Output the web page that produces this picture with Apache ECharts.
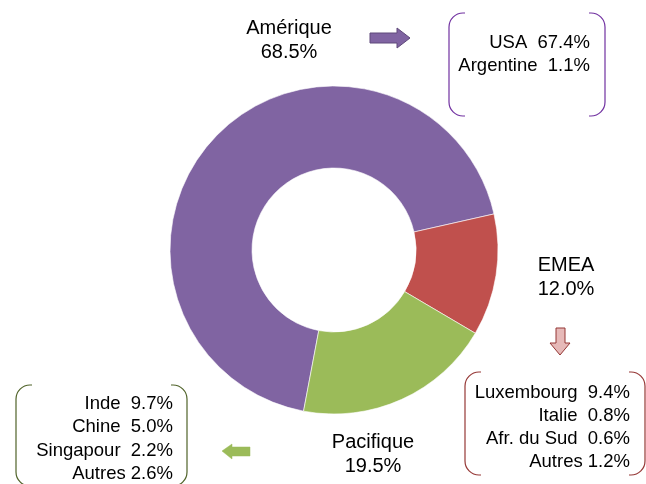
<!DOCTYPE html>
<html><head><meta charset="utf-8">
<script src="https://cdn.jsdelivr.net/npm/echarts@6/dist/echarts.min.js"></script>
<style>html,body{margin:0;padding:0;background:#fff}#c{width:646px;height:484px}</style>
</head><body><div id="c"></div>
<script>
const regions = ['Amérique', 'EMEA', 'Pacifique'];
const regionValues = [68.5, 12.0, 19.5];
const regionColors = ['#8064A2', '#C0504D', '#9BBB59'];
const ameriqueCountries = ['USA', 'Argentine'];
const ameriqueValues = [67.4, 1.1];
const emeaCountries = ['Luxembourg', 'Italie', 'Afr. du Sud', 'Autres'];
const emeaValues = [9.4, 0.8, 0.6, 1.2];
const pacifiqueCountries = ['Inde', 'Chine', 'Singapour', 'Autres'];
const pacifiqueValues = [9.7, 5.0, 2.2, 2.6];

const FONT = '"Liberation Sans", Arial, sans-serif';
const fmt = v => v.toFixed(1) + '%';
const graphics = [];

function regionLabel(i, x, y) {
  graphics.push({type:'text', x:x, y:y, style:{text:regions[i], font:'20px ' + FONT, fill:'#000', align:'center', verticalAlign:'middle'}});
  graphics.push({type:'text', x:x, y:y+24, style:{text:fmt(regionValues[i]), font:'20px ' + FONT, fill:'#000', align:'center', verticalAlign:'middle'}});
}
function listText(names, vals, xRight, y0, step) {
  names.forEach((n, k) => {
    const sep = n === 'Autres' ? ' ' : '  ';
    graphics.push({type:'text', x:xRight, y:y0 + k*step, style:{text:n + sep + fmt(vals[k]), font:'18.5px ' + FONT, fill:'#000', align:'right', verticalAlign:'middle'}});
  });
}
function brackets(x1, x2, y1, y2, color) {
  const r = 14, t = 2, PI = Math.PI;
  const st = {fill:null, stroke:color, lineWidth:1.2};
  const L = (a, b, c, d) => graphics.push({type:'line', shape:{x1:a, y1:b, x2:c, y2:d}, style:st});
  const A = (cx, cy, s, e) => graphics.push({type:'arc', shape:{cx:cx, cy:cy, r:r, startAngle:s, endAngle:e, clockwise:true}, style:st});
  // left
  L(x1+r, y1, x1+r+t, y1); A(x1+r, y1+r, PI, 1.5*PI); L(x1, y1+r, x1, y2-r); A(x1+r, y2-r, 0.5*PI, PI); L(x1+r, y2, x1+r+t, y2);
  // right
  L(x2-r-t, y1, x2-r, y1); A(x2-r, y1+r, 1.5*PI, 2*PI); L(x2, y1+r, x2, y2-r); A(x2-r, y2-r, 0, 0.5*PI); L(x2-r-t, y2, x2-r, y2);
}

regionLabel(0, 289, 28);
regionLabel(1, 566, 265);
regionLabel(2, 373, 442);

listText(ameriqueCountries, ameriqueValues, 590, 43, 23);
listText(emeaCountries, emeaValues, 630, 393, 23);
listText(pacifiqueCountries, pacifiqueValues, 173, 404, 23.3);

brackets(449, 605, 13, 116, '#7030A0');
brackets(465, 645, 372, 475, '#953735');
brackets(16, 187, 385, 486, '#4F6228');

graphics.push({type:'polygon', shape:{points:[[370,33],[397,33],[397,28],[410,38],[397,48],[397,43],[370,43]]}, style:{fill:'#8064A2', stroke:'#5F497A', lineWidth:1}});
graphics.push({type:'polygon', shape:{points:[[556,328],[565,328],[565,343],[570,343],[560,355],[550,343],[556,343]]}, style:{fill:'#E6B9B8', stroke:'#943634', lineWidth:1}});
graphics.push({type:'polygon', shape:{points:[[222,451],[232,444],[232,447],[250,447],[250,456],[232,456],[232,459]]}, style:{fill:'#9BBB59', stroke:'#9BBB59', lineWidth:0.5}});

const chart = echarts.init(document.getElementById('c'), null, {renderer:'canvas'});
chart.setOption({
  animation: false,
  backgroundColor: '#fff',
  series: [{
    type: 'pie',
    center: [334, 250],
    radius: [82, 164],
    startAngle: 259.3,
    clockwise: true,
    label: {show: false},
    labelLine: {show: false},
    emphasis: {disabled: true},
    itemStyle: {borderColor: '#fff', borderWidth: 0.6},
    data: regions.map((n, i) => ({name: n, value: regionValues[i], itemStyle: {color: regionColors[i]}}))
  }],
  graphic: graphics
});
</script></body></html>
